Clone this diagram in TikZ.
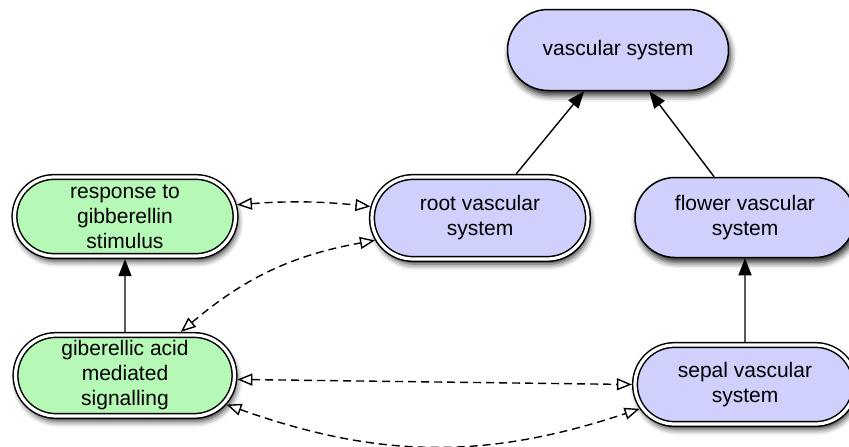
\documentclass[tikz,border=0pt]{standalone}
\usepackage{fontspec}
\setmainfont{Liberation Sans}
\usetikzlibrary{shapes.misc,arrows.meta,shadows.blur}
\definecolor{nodegreen}{RGB}{182,248,182}
\definecolor{nodeblue}{RGB}{208,208,252}
\tikzset{
  term/.style={rounded rectangle, draw=black, line width=1.5pt, inner sep=0pt,
    align=center, font=\fontsize{21}{25}\selectfont,
    blur shadow={shadow xshift=2pt, shadow yshift=-5pt, shadow blur radius=6pt, shadow opacity=85}},
  singleterm/.style={term, outer sep=0.75pt},
  dblterm/.style={term, double=white, double distance=3.2pt, outer sep=3.1pt},
  greennode/.style={fill=nodegreen},
  bluenode/.style={fill=nodeblue},
  isa/.style={line width=1.4pt, -{Triangle[length=17pt,width=13pt]}},
  assoc/.style={line width=1.4pt, dash pattern=on 8pt off 5pt,
    {Triangle[open,length=15pt,width=12pt,line width=1.4pt]}-{Triangle[open,length=15pt,width=12pt,line width=1.4pt]}}
}
\begin{document}
\begin{tikzpicture}[x=1pt,y=-1pt]
\useasboundingbox (0,0) rectangle (849,447);
\clip (0,0) rectangle (849,447);
\node[singleterm,bluenode,minimum width=221pt,minimum height=81pt] (vasc) at (618,50) {vascular system};
\node[dblterm,bluenode,minimum width=216pt,minimum height=82pt] (root) at (480,218) {root vascular\\system};
\node[singleterm,bluenode,minimum width=220pt,minimum height=80pt] (flower) at (745,217.5) {flower vascular\\system};
\node[dblterm,greennode,minimum width=221pt,minimum height=79pt] (resp) at (125,216.5) {response to\\gibberellin\\stimulus};
\node[dblterm,greennode,minimum width=219pt,minimum height=81pt] (gib) at (125,375.5) {giberellic acid\\mediated\\signalling};
\node[dblterm,bluenode,minimum width=220pt,minimum height=79pt] (sepal) at (745,384.5) {sepal vascular\\system};

\draw[isa] (root) -- (vasc);
\draw[isa] (flower) -- (vasc);
\draw[isa] (gib) -- (resp);
\draw[isa] (sepal) -- (flower);

\draw[assoc] (resp.6) to[bend left=5] (root.174);
\draw[assoc] (gib.38) to[bend left=15] (root.192);
\draw[assoc] (gib.358) -- (sepal.180);
\draw[assoc] (gib.344) to[bend right=19] (sepal.193);
\end{tikzpicture}
\end{document}
